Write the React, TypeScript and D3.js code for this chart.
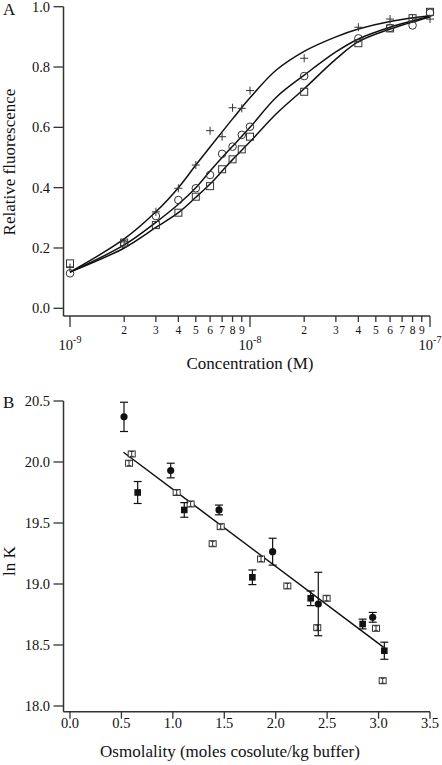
import React from "react";
import * as d3 from "d3";

// ---------- Panel A data (concentration in nM) ----------
const concNM = [1, 2, 3, 4, 5, 6, 7, 8, 9, 10, 20, 40, 60, 80, 100];
const plusY = [0.135, 0.22, 0.32, 0.398, 0.475, 0.589, 0.569, 0.665, 0.663, 0.722, 0.829, 0.932, 0.959, 0.962, 0.959];
const circleY = [0.116, 0.213, 0.306, 0.359, 0.398, 0.442, 0.512, 0.536, 0.575, 0.602, 0.77, 0.895, 0.93, 0.938, 0.98];
const squareY = [0.149, 0.218, 0.276, 0.317, 0.37, 0.405, 0.461, 0.494, 0.527, 0.569, 0.718, 0.879, 0.928, 0.962, 0.983];

// fitted curves, sampled from the figure
const curveNM = [1, 2, 3, 4, 5, 6, 7, 8, 10, 14, 20, 30, 40, 60, 100];
const curvePlus = [0.12, 0.23, 0.32, 0.4, 0.475, 0.535, 0.585, 0.628, 0.698, 0.79, 0.852, 0.9, 0.926, 0.951, 0.97];
const curveCircle = [0.12, 0.21, 0.285, 0.345, 0.4, 0.455, 0.5, 0.537, 0.6, 0.7, 0.773, 0.85, 0.893, 0.932, 0.968];
const curveSquare = [0.12, 0.2, 0.268, 0.317, 0.368, 0.412, 0.455, 0.493, 0.552, 0.645, 0.728, 0.826, 0.884, 0.926, 0.966];

const yTicksA = [0, 0.2, 0.4, 0.6, 0.8, 1.0];
const decadesA = [1e-9, 1e-8, 1e-7];
const decadeExp = ["-9", "-8", "-7"];
const minorDigits = [2, 3, 4, 5, 6, 7, 8, 9];

// ---------- Panel B data ----------
const fcX = [0.525, 0.979, 1.449, 1.97, 2.414, 2.943];
const fcY = [20.37, 19.93, 19.607, 19.265, 18.836, 18.727];
const fcErr = [0.12, 0.06, 0.04, 0.11, 0.26, 0.04];

const fsX = [0.658, 1.111, 1.773, 2.34, 2.845, 3.056];
const fsY = [19.75, 19.607, 19.055, 18.883, 18.672, 18.453];
const fsErr = [0.09, 0.06, 0.06, 0.06, 0.04, 0.07];

const osX = [0.574, 0.6, 1.037, 1.173, 1.465, 1.387, 1.857, 2.113, 2.495, 2.404, 2.975, 3.04];
const osY = [19.99, 20.066, 19.75, 19.656, 19.47, 19.33, 19.205, 18.984, 18.883, 18.642, 18.637, 18.207];
const osErr = [0.02, 0.02, 0.02, 0.02, 0.02, 0.02, 0.02, 0.02, 0.02, 0.02, 0.02, 0.02];

const fitX = [0.52, 3.05];
const fitY = [20.08, 18.48];

const xTicksB = [0, 0.5, 1.0, 1.5, 2.0, 2.5, 3.0, 3.5];
const yTicksB = [18.0, 18.5, 19.0, 19.5, 20.0, 20.5];

const FONT = "'Liberation Serif', 'Times New Roman', serif";
const AX = "#333";
const INK = "#111";

export default function App() {
  const xA = d3.scaleLog().domain([1e-9, 1e-7]).range([70, 430]);
  const yA = d3.scaleLinear().domain([0, 1]).range([308.3, 6.7]);
  const xB = d3.scaleLinear().domain([0, 3.5]).range([70, 430]);
  const yB = d3.scaleLinear().domain([18, 20.5]).range([706, 401]);

  const lineA = d3
    .line<[number, number]>()
    .x((d) => xA(d[0] * 1e-9))
    .y((d) => yA(d[1]))
    .curve(d3.curveCatmullRom.alpha(0.5));

  const curves = [curvePlus, curveCircle, curveSquare].map((ys) =>
    lineA(curveNM.map((c, i) => [c, ys[i]] as [number, number]))
  );

  const minorTicks: number[] = [];
  [1e-9, 1e-8].forEach((d) => minorDigits.forEach((m) => minorTicks.push(d * m)));

  const axisA_y0 = 316;
  const axisB_y0 = 711.7;

  return (
    <svg
      width={442}
      height={765}
      style={{ position: "absolute", left: 0, top: 0, background: "#fff" }}
      fontFamily={FONT}
    >
      <rect width={442} height={765} fill="#fff" />
      {/* ================= Panel A ================= */}
      <text x={3} y={15} fontSize={17} fill={INK}>A</text>
      <line x1={63.5} x2={63.5} y1={yA(1)} y2={axisA_y0} stroke={AX} strokeWidth={1.5} />
      {yTicksA.map((t) => (
        <g key={"ya" + t}>
          <line x1={53.5} x2={63.5} y1={yA(t)} y2={yA(t)} stroke={AX} strokeWidth={1.3} />
          <text x={50} y={yA(t) + 5} fontSize={14.5} textAnchor="end" fill={INK}>
            {t.toFixed(1)}
          </text>
        </g>
      ))}
      <text transform={`translate(15,162) rotate(-90)`} fontSize={17} textAnchor="middle" fill={INK}>
        Relative fluorescence
      </text>
      <line x1={63.5} x2={xA(1e-7)} y1={axisA_y0} y2={axisA_y0} stroke={AX} strokeWidth={1.5} />
      {decadesA.map((d, i) => (
        <g key={"dec" + i}>
          <line x1={xA(d)} x2={xA(d)} y1={axisA_y0} y2={axisA_y0 + 11} stroke={AX} strokeWidth={1.3} />
          <text x={xA(d)} y={350} fontSize={14.5} textAnchor="middle" fill={INK}>
            10
            <tspan fontSize={10} dy={-7}>{decadeExp[i]}</tspan>
          </text>
        </g>
      ))}
      {minorTicks.map((t, i) => (
        <g key={"mn" + i}>
          <line x1={xA(t)} x2={xA(t)} y1={axisA_y0} y2={axisA_y0 + 6} stroke={AX} strokeWidth={1.3} />
          <text x={xA(t)} y={334} fontSize={11.5} textAnchor="middle" fill={INK}>
            {minorDigits[i % 8]}
          </text>
        </g>
      ))}
      <text x={250} y={369} fontSize={17} textAnchor="middle" fill={INK}>
        Concentration (M)
      </text>
      {curves.map((p, i) => (
        <path key={"c" + i} d={p || ""} fill="none" stroke={INK} strokeWidth={1.5} />
      ))}
      {concNM.map((c, i) => {
        const x = xA(c * 1e-9);
        return (
          <g key={"mk" + i} fill="none" stroke="#333" strokeWidth={1}>
            <rect x={x - 3.5} y={yA(squareY[i]) - 3.5} width={7} height={7} />
            <circle cx={x} cy={yA(circleY[i])} r={3.8} />
            <line x1={x - 4} x2={x + 4} y1={yA(plusY[i])} y2={yA(plusY[i])} />
            <line x1={x} x2={x} y1={yA(plusY[i]) - 4} y2={yA(plusY[i]) + 4} />
          </g>
        );
      })}

      {/* ================= Panel B ================= */}
      <text x={3} y={408} fontSize={17} fill={INK}>B</text>
      <line x1={63.5} x2={63.5} y1={yB(20.5)} y2={axisB_y0} stroke={AX} strokeWidth={1.5} />
      {yTicksB.map((t) => (
        <g key={"yb" + t}>
          <line x1={53.5} x2={63.5} y1={yB(t)} y2={yB(t)} stroke={AX} strokeWidth={1.3} />
          <text x={50} y={yB(t) + 5} fontSize={14.5} textAnchor="end" fill={INK}>
            {t.toFixed(1)}
          </text>
        </g>
      ))}
      <text transform={`translate(15,561) rotate(-90)`} fontSize={17} textAnchor="middle" fill={INK}>
        ln K
      </text>
      <line x1={63.5} x2={xB(3.5)} y1={axisB_y0} y2={axisB_y0} stroke={AX} strokeWidth={1.5} />
      {xTicksB.map((t) => (
        <g key={"xb" + t}>
          <line x1={xB(t)} x2={xB(t)} y1={axisB_y0} y2={axisB_y0 + 7} stroke={AX} strokeWidth={1.3} />
          <text x={xB(t)} y={728} fontSize={14.5} textAnchor="middle" fill={INK}>
            {t.toFixed(1)}
          </text>
        </g>
      ))}
      <text x={230} y={757} fontSize={17} textAnchor="middle" fill={INK}>
        Osmolality (moles cosolute/kg buffer)
      </text>
      <line
        x1={xB(fitX[0])}
        x2={xB(fitX[1])}
        y1={yB(fitY[0])}
        y2={yB(fitY[1])}
        stroke={INK}
        strokeWidth={1.5}
      />
      {osX.map((v, i) => {
        const x = xB(v);
        const y = yB(osY[i]);
        const t = yB(osY[i] + osErr[i]);
        const b = yB(osY[i] - osErr[i]);
        return (
          <g key={"os" + i} stroke="#333" strokeWidth={1} fill="#fff">
            <rect x={x - 3.5} y={y - 3} width={7} height={6} />
            <line x1={x} x2={x} y1={t} y2={b} />
            <line x1={x - 2} x2={x + 2} y1={t} y2={t} />
            <line x1={x - 2} x2={x + 2} y1={b} y2={b} />
          </g>
        );
      })}
      {fsX.map((v, i) => {
        const x = xB(v);
        const y = yB(fsY[i]);
        const t = yB(fsY[i] + fsErr[i]);
        const b = yB(fsY[i] - fsErr[i]);
        return (
          <g key={"fs" + i} stroke={INK} strokeWidth={1.2}>
            <line x1={x} x2={x} y1={t} y2={b} />
            <line x1={x - 4} x2={x + 4} y1={t} y2={t} />
            <line x1={x - 4} x2={x + 4} y1={b} y2={b} />
            <rect x={x - 3.3} y={y - 3.3} width={6.6} height={6.6} fill={INK} stroke="none" />
          </g>
        );
      })}
      {fcX.map((v, i) => {
        const x = xB(v);
        const y = yB(fcY[i]);
        const t = yB(fcY[i] + fcErr[i]);
        const b = yB(fcY[i] - fcErr[i]);
        return (
          <g key={"fc" + i} stroke={INK} strokeWidth={1.2}>
            <line x1={x} x2={x} y1={t} y2={b} />
            <line x1={x - 4} x2={x + 4} y1={t} y2={t} />
            <line x1={x - 4} x2={x + 4} y1={b} y2={b} />
            <circle cx={x} cy={y} r={3.6} fill={INK} stroke="none" />
          </g>
        );
      })}
    </svg>
  );
}
